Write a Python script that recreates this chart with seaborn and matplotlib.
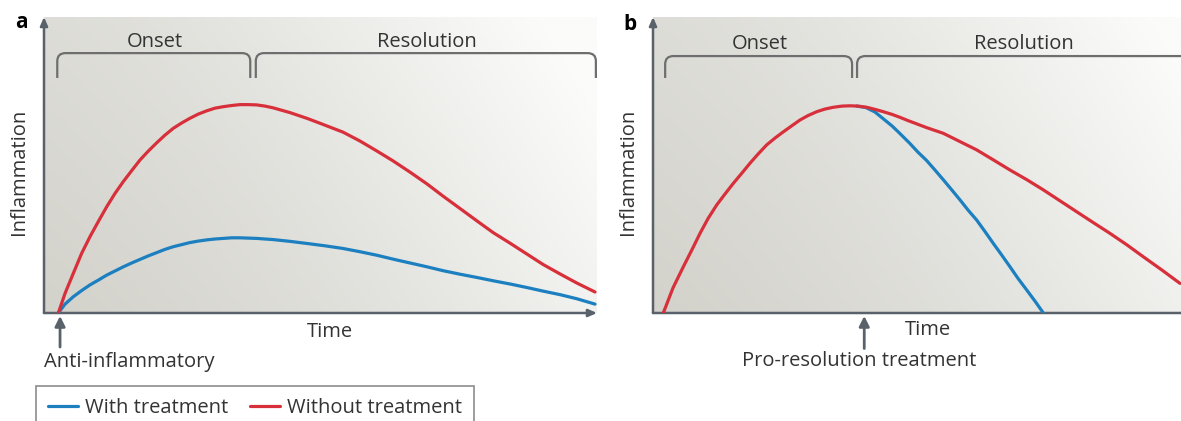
import numpy as np
import pandas as pd
import matplotlib
matplotlib.use("Agg")
import matplotlib.pyplot as plt
from matplotlib.path import Path
from matplotlib.patches import PathPatch
from matplotlib.colors import LinearSegmentedColormap
import seaborn as sns

# Panel a (anti-inflammatory treatment at onset)
a_time_without = [2.59, 3.80, 5.30, 6.82, 8.32, 9.82, 11.34, 12.84, 14.34, 15.86, 17.36, 18.86,
                  20.38, 21.88, 23.38, 24.90, 26.40, 27.90, 29.42, 30.92, 32.42, 33.94, 35.44,
                  36.89, 38.46, 39.96, 41.46, 44.48, 47.50, 49.91, 54.07, 57.14, 60.22, 63.11,
                  66.18, 69.26, 72.15, 75.23, 78.30, 81.19, 84.27, 87.34, 90.24, 93.31, 96.38, 99.64]
a_infl_without = [0, 6.6, 13.4, 20.2, 25.8, 30.9, 35.9, 40.4, 44.4, 48.1, 51.7, 54.7,
                  57.5, 60.1, 62.4, 64.2, 65.8, 67.2, 68.3, 69.2, 69.7, 70.1, 70.4,
                  70.4, 70.3, 69.9, 69.3, 67.7, 65.8, 64.1, 61.1, 58.1, 54.7, 51.4,
                  47.6, 43.6, 39.5, 35.3, 31.1, 27.2, 23.6, 19.9, 16.4, 13.2, 10.1, 7.1]
a_time_with = [2.59, 3.80, 5.30, 6.82, 8.32, 9.82, 11.34, 12.84, 14.34, 15.86, 17.36, 18.86,
               20.38, 21.88, 23.38, 24.90, 26.40, 27.90, 29.42, 30.92, 32.42, 33.94, 35.44,
               38.46, 41.46, 44.48, 47.50, 50.81, 54.07, 57.14, 60.22, 63.11, 66.18, 69.26,
               72.15, 75.23, 78.30, 81.19, 84.27, 87.34, 90.24, 93.31, 96.38, 99.64]
a_infl_with = [0, 3.0, 5.5, 7.6, 9.5, 11.1, 12.8, 14.2, 15.6, 16.9, 18.1, 19.3,
               20.4, 21.5, 22.4, 23.1, 23.8, 24.3, 24.7, 25.0, 25.2, 25.4, 25.4,
               25.2, 24.8, 24.2, 23.5, 22.7, 21.8, 20.7, 19.5, 18.2, 16.9, 15.6,
               14.3, 13.1, 12.0, 10.9, 9.8, 8.6, 7.4, 6.2, 4.8, 3.0]

# Panel b (pro-resolution treatment at the peak)
b_time_without = [1.86, 3.62, 5.48, 7.05, 8.50, 9.95, 11.52, 13.02, 14.52, 16.09, 17.54, 19.00,
                  20.56, 22.06, 23.56, 25.14, 26.58, 28.03, 29.60, 31.10, 32.60, 34.18, 35.62,
                  37.07, 38.64, 40.14, 41.65, 43.22, 44.67, 46.11, 47.69, 49.37, 52.50, 55.52,
                  58.54, 61.48, 64.56, 67.63, 70.58, 73.60, 76.62, 79.57, 82.64, 85.71, 88.66,
                  92.04, 95.30]
b_infl_without = [0, 8.5, 15.6, 21.4, 26.9, 31.9, 36.5, 40.2, 43.8, 47.3, 50.6, 53.7,
                  56.8, 59.1, 61.2, 63.3, 65.2, 66.7, 68.0, 68.9, 69.5, 69.9, 70.0,
                  69.9, 69.5, 68.8, 68.0, 67.1, 66.1, 65.0, 63.9, 62.7, 60.7, 57.9,
                  55.1, 51.8, 48.3, 45.0, 41.6, 37.9, 34.2, 30.6, 26.9, 23.0, 19.0,
                  14.5, 10.0]
b_time_with = [36.83, 38.52, 40.14, 41.65, 43.22, 44.67, 46.44, 47.88, 49.49, 50.99, 52.50,
               54.02, 55.52, 56.96, 58.53, 60.04, 61.54, 63.05, 64.56, 66.00, 67.57, 69.08, 70.59]
b_infl_with = [69.9, 69.4, 67.9, 65.6, 63.2, 60.6, 57.3, 54.4, 51.5, 48.3, 45.0,
               41.6, 38.2, 34.8, 31.4, 27.5, 23.5, 19.6, 15.6, 11.7, 7.8, 4.0, 0]

RED = "#d8303b"
BLUE = "#1b7fc0"
AXIS = "#59626a"
TEXT = "#333333"
W, H = 1181, 421

sns.set_theme(style="white")
plt.rcParams["font.family"] = ["Open Sans", "DejaVu Sans"]

fig = plt.figure(figsize=(W / 100, H / 100), dpi=100)
fig.patch.set_facecolor("white")

bg_cmap = LinearSegmentedColormap.from_list("bg", ["#d3d2cb", "#e4e4e0", "#fbfbfa"])


def make_df(t_with, y_with, t_without, y_without):
    d1 = pd.DataFrame({"Time": t_with, "Inflammation": y_with, "Group": "With treatment"})
    d2 = pd.DataFrame({"Time": t_without, "Inflammation": y_without, "Group": "Without treatment"})
    return pd.concat([d1, d2], ignore_index=True)


def bracket(ax, x0, x1, y_top, y_bot, rx=1.5, ry=2.7):
    verts = [(x0, y_bot), (x0, y_top - ry), (x0, y_top), (x0 + rx, y_top),
             (x1 - rx, y_top), (x1, y_top), (x1, y_top - ry), (x1, y_bot)]
    codes = [Path.MOVETO, Path.LINETO, Path.CURVE3, Path.CURVE3,
             Path.LINETO, Path.CURVE3, Path.CURVE3, Path.LINETO]
    ax.add_patch(PathPatch(Path(verts, codes), fill=False, lw=1.6,
                           edgecolor="#6e6e6e", capstyle="butt"))


def setup_panel(left_px):
    ax = fig.add_axes([left_px / W, (H - 313) / H, 553 / W, 296 / H])
    ax.set_xlim(0, 100)
    ax.set_ylim(0, 100)
    # gradient background: darker at lower left, almost white on the right
    gx = np.linspace(0, 1, 200)
    gy = np.linspace(0, 1, 100)
    X, Y = np.meshgrid(gx, gy)
    shade = np.clip(0.8 * X ** 1.2 + 0.3 * Y, 0, 1)
    ax.imshow(shade, extent=[0, 100, 0, 100], origin="lower", cmap=bg_cmap,
              vmin=0, vmax=1, aspect="auto", zorder=0, interpolation="bilinear")
    for s in ax.spines.values():
        s.set_visible(False)
    ax.set_xticks([])
    ax.set_yticks([])
    # axis lines with arrow heads
    ax.annotate("", xy=(0, 1.0), xytext=(0, 0), xycoords="axes fraction",
                arrowprops=dict(arrowstyle="-|>,head_length=0.5,head_width=0.22",
                                color=AXIS, lw=1.8, shrinkA=0, shrinkB=0,
                                mutation_scale=10))
    ax.annotate("", xy=(1.0, 0), xytext=(0, 0), xycoords="axes fraction",
                arrowprops=dict(arrowstyle="-|>,head_length=0.5,head_width=0.22",
                                color=AXIS, lw=1.8, shrinkA=0, shrinkB=0,
                                mutation_scale=10))
    return ax


def ftext(px, py, s, **kw):
    kw.setdefault("color", TEXT)
    fig.text(px / W, 1 - py / H, s, **kw)


palette = {"With treatment": BLUE, "Without treatment": RED}

# ---- panel a ----
ax_a = setup_panel(44)
df_a = make_df(a_time_with, a_infl_with, a_time_without, a_infl_without)
sns.lineplot(data=df_a, x="Time", y="Inflammation", hue="Group", palette=palette,
             lw=2.3, sort=False, legend=False, ax=ax_a, zorder=3)
ax_a.set_xlabel("")
ax_a.set_ylabel("")
bracket(ax_a, 2.4, 37.3, 87.8, 79.4)
bracket(ax_a, 38.3, 99.8, 87.8, 79.4)
ax_a.annotate("", xy=(2.9, -0.01), xytext=(2.9, -0.115),
              xycoords=ax_a.get_xaxis_transform(),
              arrowprops=dict(arrowstyle="-|>,head_length=0.5,head_width=0.25",
                              color=AXIS, lw=2, shrinkA=0, shrinkB=0, mutation_scale=12),
              annotation_clip=False)

# ---- panel b ----
ax_b = setup_panel(653)
df_b = make_df(b_time_with, b_infl_with, b_time_without, b_infl_without)
sns.lineplot(data=df_b, x="Time", y="Inflammation", hue="Group", palette=palette,
             lw=2.3, sort=False, legend=False, ax=ax_b, zorder=3)
ax_b.set_xlabel("")
ax_b.set_ylabel("")
bracket(ax_b, 2.2, 36.0, 86.8, 79.4)
bracket(ax_b, 36.9, 99.5, 86.8, 79.4)
ax_b.annotate("", xy=(38.2, -0.01), xytext=(38.2, -0.12),
              xycoords=ax_b.get_xaxis_transform(),
              arrowprops=dict(arrowstyle="-|>,head_length=0.5,head_width=0.25",
                              color=AXIS, lw=2, shrinkA=0, shrinkB=0, mutation_scale=12),
              annotation_clip=False)

# ---- labels ----
fs = 14.5
ftext(21, 23, "a", fontsize=15, fontweight="bold", ha="center", va="center", color="black")
ftext(630, 25, "b", fontsize=15, fontweight="bold", ha="center", va="center", color="black")
ftext(155, 42, "Onset", fontsize=fs, ha="center", va="center")
ftext(427, 42, "Resolution", fontsize=fs, ha="center", va="center")
ftext(760, 44, "Onset", fontsize=fs, ha="center", va="center")
ftext(1024, 44, "Resolution", fontsize=fs, ha="center", va="center")
ftext(19, 172, "Inflammation", fontsize=fs, rotation=90, ha="center", va="center")
ftext(628, 172, "Inflammation", fontsize=fs, rotation=90, ha="center", va="center")
ftext(330, 332, "Time", fontsize=fs, ha="center", va="center")
ftext(928, 330, "Time", fontsize=fs, ha="center", va="center")
ftext(129, 362, "Anti-inflammatory", fontsize=fs, ha="center", va="center")
ftext(859, 361, "Pro-resolution treatment", fontsize=fs, ha="center", va="center")

# ---- legend (bottom edge runs off the figure, as in the source) ----
handles = [plt.Line2D([], [], color=BLUE, lw=2.3), plt.Line2D([], [], color=RED, lw=2.3)]
leg = fig.legend(handles, ["With treatment", "Without treatment"], ncol=2,
                 loc="upper left", bbox_to_anchor=(36 / W, 1 - 386 / H),
                 borderaxespad=0, frameon=True, fancybox=False, fontsize=fs,
                 handlelength=1.5, handletextpad=0.35, columnspacing=1.05,
                 borderpad=0.6, labelcolor=TEXT)
leg.get_frame().set_edgecolor("#707070")
leg.get_frame().set_linewidth(1.2)

fig.savefig("out.png", dpi=100, facecolor="white")
